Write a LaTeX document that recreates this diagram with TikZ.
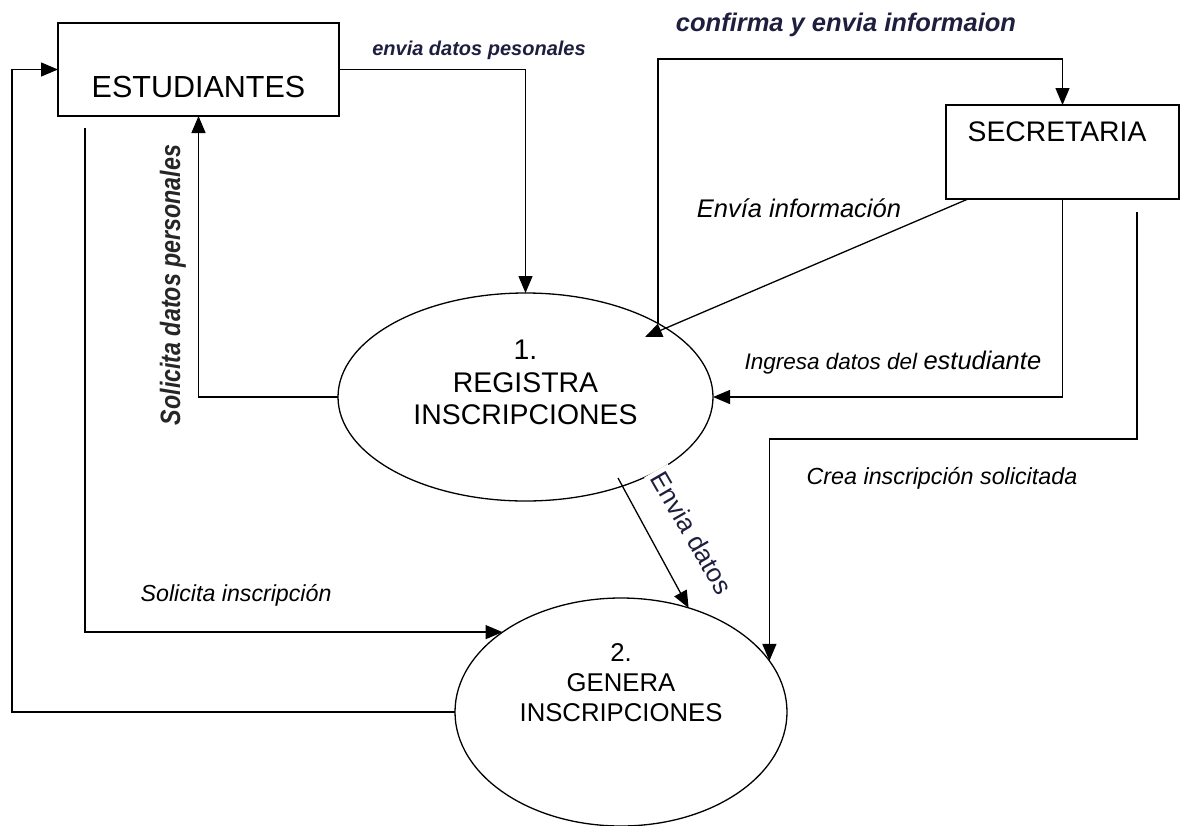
\documentclass[tikz,border=0pt]{standalone}
\usepackage{fontspec}
\setmainfont{Liberation Sans}
\usetikzlibrary{arrows.meta,shapes.geometric,calc}
\definecolor{navy}{RGB}{30,30,62}
\begin{document}
\begin{tikzpicture}[x=1pt,y=-1pt,
  line width=1.3pt,
  arr/.style={-{Triangle[length=17pt,width=14pt]}},
  box/.style={draw, rectangle, inner sep=0pt, outer sep=0pt},
  proc/.style={draw, ellipse, inner sep=0pt, outer sep=0pt},
  lab/.style={inner sep=0pt, font=\fontsize{23}{27}\selectfont\itshape}]
\useasboundingbox (0,0) rectangle (1180,825);

% entities
\node[box, minimum width=281pt, minimum height=93pt,
  label={[font=\fontsize{30.5}{36}\selectfont, yshift=-17.5pt]center:ESTUDIANTES}] (est) at (198.5,69.5) {};
\node[box, minimum width=233pt, minimum height=94pt,
  label={[font=\fontsize{28.3}{34}\selectfont, xshift=-5.5pt, yshift=20pt]center:SECRETARIA}] (sec) at (1062.5,152) {};

% processes
\node[proc, minimum width=375pt, minimum height=208pt,
  label={[font=\fontsize{28.4}{32.5}\selectfont, align=center, yshift=14.5pt]center:{1.\\REGISTRA\\INSCRIPCIONES}}] (reg) at (525.5,397) {};
\node[proc, minimum width=332pt, minimum height=228pt,
  label={[font=\fontsize{25.7}{30}\selectfont, align=center, yshift=29pt]center:{2.\\GENERA\\INSCRIPCIONES}}] (gen) at (621,712) {};

% free ends
\coordinate (s1) at (85,128);
\coordinate (top) at (0,59);
\coordinate (t1) at (645,337);
\coordinate (c2) at (1137,212);
\coordinate (c3) at (0,439);
\coordinate (d1) at (618,478);

% connectors
\draw[arr] (est.east) -| (reg.north);
\draw[arr] (reg.west) -| (est.south);
\draw[arr] (s1) |- (gen.146);
\draw[arr] (gen.west) -| ([xshift=-46pt]est.west) -- (est.west);
\draw[arr] (reg.29) |- (sec.north |- top) -- (sec.north);
\draw[arr] ([xshift=22pt]sec.south west) -- (t1);
\draw[arr] (sec.south) |- (reg.east);
\draw[arr] (c2) |- (gen.19 |- c3) -- (gen.19);
\draw[arr] (d1) -- (gen.57);

% labels
\node[lab, font=\fontsize{20}{24}\selectfont\bfseries\itshape, text=navy] (l1) at (479,50) {envia datos pesonales};
\node[lab, font=\fontsize{25.5}{30}\selectfont\bfseries\itshape, text=navy] (l2) at (846,25) {confirma y envia informaion};
\node[lab, font=\fontsize{25.5}{30}\selectfont\itshape] (l3) at (799,208) {Envía información};
\node[lab, anchor=west] (l4) at (744,363) {{\fontsize{22.5}{27}\selectfont Ingresa datos del }{\fontsize{25.5}{30}\selectfont estudiante}};
\node[lab, anchor=west, font=\fontsize{23.3}{28}\selectfont\itshape] (l5) at (806,478) {Crea inscripción solicitada};
\node[lab, anchor=west, font=\fontsize{23.2}{28}\selectfont\itshape] (l6) at (140,595) {Solicita inscripción};
\node[lab, rotate=90, font=\fontsize{28}{32}\selectfont\bfseries\itshape, text=black!85] (l7) at (173,285) {\scalebox{0.83}[1]{Solicita datos personales}};
\node[rotate=-60, fill=white, inner sep=4pt, font=\fontsize{26}{30}\selectfont, text=navy] (l8) at (692,533) {Envia datos};
\end{tikzpicture}
\end{document}
